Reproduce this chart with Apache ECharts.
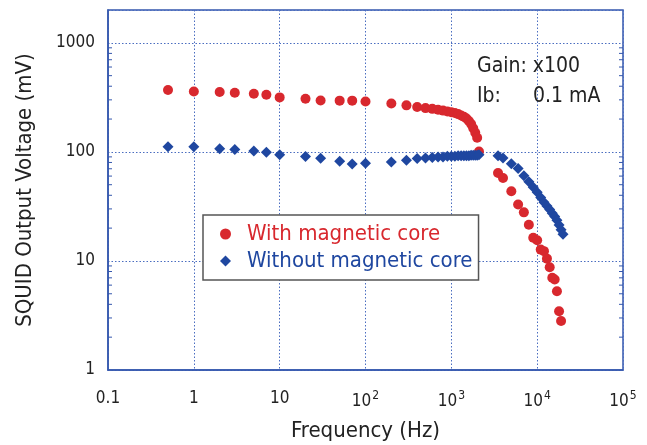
<!DOCTYPE html>
<html><head><meta charset="utf-8">
<script src="https://cdn.jsdelivr.net/npm/echarts@6/dist/echarts.min.js"></script>
<style>html,body{margin:0;padding:0;background:#fff}#c{width:647px;height:445px}</style>
</head><body><div id="c"></div>
<script>
const seriesNames = ['With magnetic core', 'Without magnetic core'];
const redFreq = [0.5, 1, 2, 3, 5, 7, 10, 20, 30, 50, 70, 100, 200, 300, 400, 500, 600, 700, 800, 900, 1000,
  1100, 1200, 1300, 1400, 1500, 1600, 1700, 1800, 1900, 2000, 2100,
  3500, 4000, 5000, 6000, 7000, 8000, 9000, 10000, 11000, 12000, 13000, 14000, 15000, 16000, 17000, 18000, 19000];
const redVolt = [369, 358, 354, 349, 341, 334, 316, 307, 296, 295, 295, 290, 278, 267, 258, 252, 248, 243, 239, 235, 231,
  227, 222, 216, 210, 202, 192, 180, 165, 150, 135, 101,
  64.1, 57.7, 43.5, 32.9, 27.9, 21.5, 16.3, 15.5, 12.7, 12.3, 10.5, 8.75, 7.0, 6.76, 5.28, 3.46, 2.81];
const blueFreq = [0.5, 1, 2, 3, 5, 7, 10, 20, 30, 50, 70, 100, 200, 300, 400, 500, 600, 700, 800, 900, 1000,
  1100, 1200, 1300, 1400, 1500, 1600, 1700, 1800, 1900, 2000, 2100,
  3500, 4000, 5000, 6000, 7000, 8000, 9000, 10000, 11000, 12000, 13000, 14000, 15000, 16000, 17000, 18000, 19000, 20000];
const blueVolt = [111.6, 111.6, 107, 105, 102, 99, 94.3, 90.9, 87.3, 81.9, 77.5, 78.5, 80.8, 84, 87, 88, 89, 90, 90, 91, 91,
  91, 92, 92, 92, 92, 92, 93, 93, 93, 93, 94,
  92.3, 87.9, 77.8, 70.5, 60.5, 53.2, 47.4, 42.7, 38.1, 34.5, 31.9, 29.7, 27.4, 25.5, 23.6, 21.4, 19.3, 17.6];
const xTickLabels = ['0.1', '1', '10', '10{s|2}', '10{s|3}', '10{s|4}', '10{s|5}'];
const yTickLabels = ['1', '10', '100', '1000'];
const yMinorTicks = [2, 3, 4, 5, 6, 7, 8, 9, 20, 30, 40, 50, 60, 70, 80, 90, 200, 300, 400, 500, 600, 700, 800, 900];
const annotation = ['Gain: x100', 'Ib:', '0.1 mA'];

const FONT = "'DejaVu Sans Condensed', 'DejaVu Sans', sans-serif";
const RED = '#d8282e', BLUE = '#1f47a0', FRAME = '#3557ad', GRID = '#4a6dc0', TXT = '#222';

const chart = echarts.init(document.getElementById('c'), null, {renderer: 'canvas'});
chart.setOption({
  animation: false,
  backgroundColor: '#fff',
  textStyle: {fontFamily: FONT},
  grid: {left: 108, top: 10, right: 24, bottom: 75, show: true, borderColor: FRAME, borderWidth: 1.5,
    backgroundColor: 'transparent', outerBoundsMode: 'none', containLabel: false},
  xAxis: {
    type: 'log', logBase: 10, min: 0.1, max: 100000, interval: 1,
    name: 'Frequency (Hz)', nameLocation: 'middle', nameGap: 50,
    nameTextStyle: {fontSize: 22, color: TXT, fontFamily: FONT},
    axisLine: {show: true, lineStyle: {color: FRAME, width: 1.5}},
    axisTick: {show: false},
    splitLine: {show: true, lineStyle: {color: GRID, width: 1, type: [1.5, 2]}},
    minorTick: {show: false}, minorSplitLine: {show: false},
    axisLabel: {
      margin: 20, color: TXT, fontSize: 17, fontFamily: FONT,
      formatter: v => xTickLabels[Math.round(Math.log10(v)) + 1] || '',
      rich: {s: {fontSize: 12, fontFamily: FONT, color: TXT, padding: [0, 0, 12, 1]}}
    }
  },
  yAxis: {
    type: 'log', logBase: 10, min: 1, max: 2000, interval: 1,
    name: 'SQUID Output Voltage (mV)', nameLocation: 'middle', nameGap: 72, nameRotate: 90,
    nameTextStyle: {fontSize: 22, color: TXT, fontFamily: FONT},
    axisLine: {show: true, lineStyle: {color: FRAME, width: 1.5}},
    axisTick: {show: false},
    splitLine: {show: true, lineStyle: {color: GRID, width: 1, type: [1.5, 2]}},
    axisLabel: {
      margin: 13, color: TXT, fontSize: 17, fontFamily: FONT, showMaxLabel: false,
      formatter: v => { const e = Math.round(Math.log10(v)); return (Math.abs(Math.log10(v) - e) < 1e-6) ? (yTickLabels[e] || '') : ''; }
    }
  },
  legend: {
    orient: 'vertical', left: 203, top: 215,
    padding: [7, 6, 7, 17], itemGap: 3, itemWidth: 11, itemHeight: 11, symbolKeepAspect: true,
    backgroundColor: '#fff', borderColor: '#555', borderWidth: 1.5, borderRadius: 0,
    textStyle: {fontSize: 22, lineHeight: 24, fontFamily: FONT, padding: [0, 0, 0, 11]},
    data: [
      {name: seriesNames[0], icon: 'circle', textStyle: {color: RED}},
      {name: seriesNames[1], icon: 'diamond', textStyle: {color: BLUE}}
    ]
  },
  graphic: [
    {type: 'text', z: 100, style: {x: 477, y: 67, text: annotation[0], font: '21px ' + FONT, fill: TXT, verticalAlign: 'middle'}},
    {type: 'text', z: 100, style: {x: 477, y: 97, text: annotation[1], font: '21px ' + FONT, fill: TXT, verticalAlign: 'middle'}},
    {type: 'text', z: 100, style: {x: 533, y: 97, text: annotation[2], font: '21px ' + FONT, fill: TXT, verticalAlign: 'middle'}}
  ],
  series: [
    {
      name: 'minorTicks', type: 'custom', silent: true, z: 1,
      data: yMinorTicks.map(v => [0.1, v]),
      renderItem: (params, api) => {
        const v = api.value(1);
        const pl = api.coord([0.1, v]);
        const pr = api.coord([100000, v]);
        const st = {stroke: FRAME, lineWidth: 1};
        return {type: 'group', children: [
          {type: 'line', shape: {x1: pl[0], y1: pl[1], x2: pl[0] + 4, y2: pl[1]}, style: st},
          {type: 'line', shape: {x1: pr[0] - 4, y1: pr[1], x2: pr[0], y2: pr[1]}, style: st}
        ]};
      }
    },
    {
      name: seriesNames[0], type: 'scatter', symbol: 'circle', symbolSize: 10,
      itemStyle: {color: RED, opacity: 1},
      data: redFreq.map((f, i) => [f, redVolt[i]]), z: 3
    },
    {
      name: seriesNames[1], type: 'scatter', symbol: 'diamond', symbolSize: 11,
      itemStyle: {color: BLUE, opacity: 1},
      data: blueFreq.map((f, i) => [f, blueVolt[i]]), z: 4
    }
  ]
});
</script>
</body></html>
